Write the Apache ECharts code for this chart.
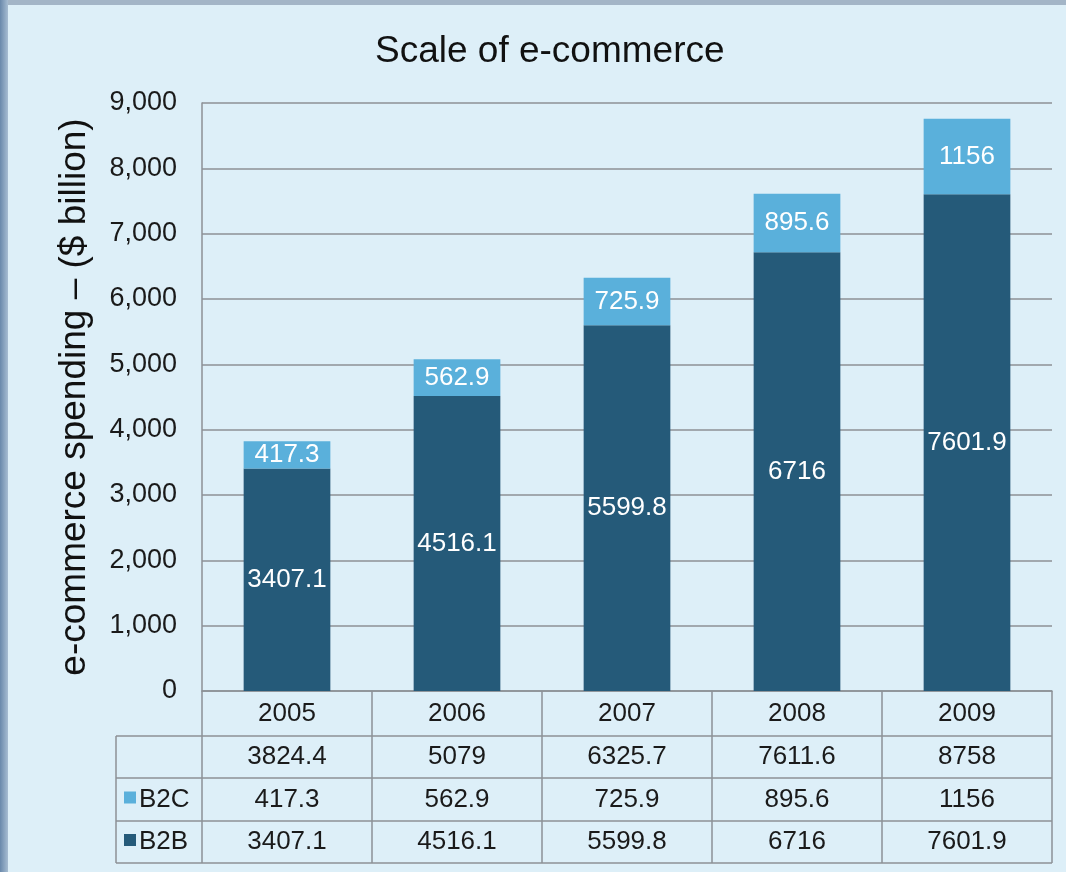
<!DOCTYPE html>
<html>
<head>
<meta charset="utf-8">
<script src="https://cdn.jsdelivr.net/npm/echarts@6/dist/echarts.min.js"></script>
<style>
  html, body { margin: 0; padding: 0; background: #ddeff8; }
  #chart { width: 1066px; height: 872px; }
</style>
</head>
<body>
<div id="chart"></div>
<script>
// data
const years = ["2005", "2006", "2007", "2008", "2009"];
const b2b = [3407.1, 4516.1, 5599.8, 6716, 7601.9];
const b2c = [417.3, 562.9, 725.9, 895.6, 1156];
const totals = [3824.4, 5079, 6325.7, 7611.6, 8758];
const yTicks = { min: 0, max: 9000, interval: 1000 };

const B2B_COLOR = "#255a79";
const B2C_COLOR = "#5ab0db";
const LINE = "#8c9196";
const FONT = "Liberation Sans";

// table rows below the axis (y positions in px)
const rowY = [691, 736, 778, 821, 863];
const tableLeft = 116;
const tableRight = 1052;

const chart = echarts.init(document.getElementById("chart"), null, { renderer: "canvas" });

const option = {
  backgroundColor: "#ddeff8",
  animation: false,
  textStyle: { fontFamily: FONT },
  title: {
    text: "Scale of e-commerce",
    left: 370,
    top: 28,
    textStyle: { fontFamily: FONT, fontSize: 37, fontWeight: "normal", color: "#111" },
  },
  grid: { left: 202, right: 14, top: 103, bottom: 181, containLabel: false },
  xAxis: {
    type: "category",
    data: years,
    axisLine: { show: true, lineStyle: { color: LINE, width: 1.5 } },
    axisTick: { show: true, alignWithLabel: false, length: rowY[4] - rowY[0], lineStyle: { color: LINE, width: 1.5 } },
    axisLabel: { color: "#1a1a1a", fontSize: 26, margin: 10, fontFamily: FONT },
    splitLine: { show: false },
  },
  yAxis: {
    type: "value",
    min: yTicks.min,
    max: yTicks.max,
    interval: yTicks.interval,
    name: "e-commerce spending \u2013 ($ billion)",
    nameLocation: "middle",
    nameGap: 109,
    nameTextStyle: { fontFamily: FONT, fontSize: 37, color: "#111" },
    axisLine: { show: true, lineStyle: { color: LINE, width: 1.5 } },
    axisTick: { show: false },
    axisLabel: {
      color: "#1a1a1a",
      fontSize: 27,
      margin: 25,
      fontFamily: FONT,
      formatter: (v) => v.toLocaleString("en-US"),
    },
    splitLine: { lineStyle: { color: LINE, width: 1.5 } },
  },
  series: [
    {
      name: "B2B",
      type: "bar",
      stack: "total",
      data: b2b,
      barWidth: "51%",
      itemStyle: { color: B2B_COLOR },
      label: { show: true, position: "inside", color: "#fff", fontSize: 26, fontFamily: FONT },
    },
    {
      name: "B2C",
      type: "bar",
      stack: "total",
      data: b2c,
      barWidth: "51%",
      itemStyle: { color: B2C_COLOR },
      label: { show: true, position: "inside", color: "#fff", fontSize: 26, fontFamily: FONT },
    },
  ],
};

chart.setOption(option);

// data table under the x axis
function buildTable() {
  const els = [];
  // window frame
  els.push({
    type: "rect", z: -10, silent: true,
    shape: { x: 0, y: 0, width: 1066, height: 5 },
    style: { fill: "#a3b5c7" },
  });
  els.push({
    type: "rect", z: -10, silent: true,
    shape: { x: 0, y: 0, width: 8, height: 872 },
    style: {
      fill: new echarts.graphic.LinearGradient(0, 0, 1, 0, [
        { offset: 0, color: "#6a89ab" },
        { offset: 1, color: "#a7bdd2" },
      ]),
    },
  });

  // horizontal lines of the data rows
  for (let i = 1; i < rowY.length; i++) {
    els.push({
      type: "line", silent: true,
      shape: { x1: tableLeft, y1: rowY[i], x2: tableRight, y2: rowY[i] },
      style: { stroke: LINE, lineWidth: 1.5 },
    });
  }
  els.push({
    type: "line", silent: true,
    shape: { x1: tableLeft, y1: rowY[1], x2: tableLeft, y2: rowY[4] },
    style: { stroke: LINE, lineWidth: 1.5 },
  });

  const rows = [
    { label: null, color: null, values: totals },
    { label: "B2C", color: B2C_COLOR, values: b2c },
    { label: "B2B", color: B2B_COLOR, values: b2b },
  ];
  rows.forEach((row, r) => {
    const yMid = (rowY[r + 1] + rowY[r + 2]) / 2;
    row.values.forEach((v, i) => {
      const x = chart.convertToPixel({ xAxisIndex: 0 }, years[i]);
      els.push({
        type: "text", silent: true,
        x: x, y: yMid,
        style: {
          text: String(v), fontSize: 26, fontFamily: FONT, fill: "#1a1a1a",
          align: "center", verticalAlign: "middle",
        },
      });
    });
    if (row.label) {
      els.push({
        type: "rect", silent: true,
        shape: { x: 124, y: yMid - 8, width: 12, height: 12 },
        style: { fill: row.color },
      });
      els.push({
        type: "text", silent: true,
        x: 139, y: yMid,
        style: {
          text: row.label, fontSize: 26, fontFamily: FONT, fill: "#1a1a1a",
          align: "left", verticalAlign: "middle",
        },
      });
    }
  });
  chart.setOption({ graphic: { elements: els } });
}

buildTable();
</script>
</body>
</html>
